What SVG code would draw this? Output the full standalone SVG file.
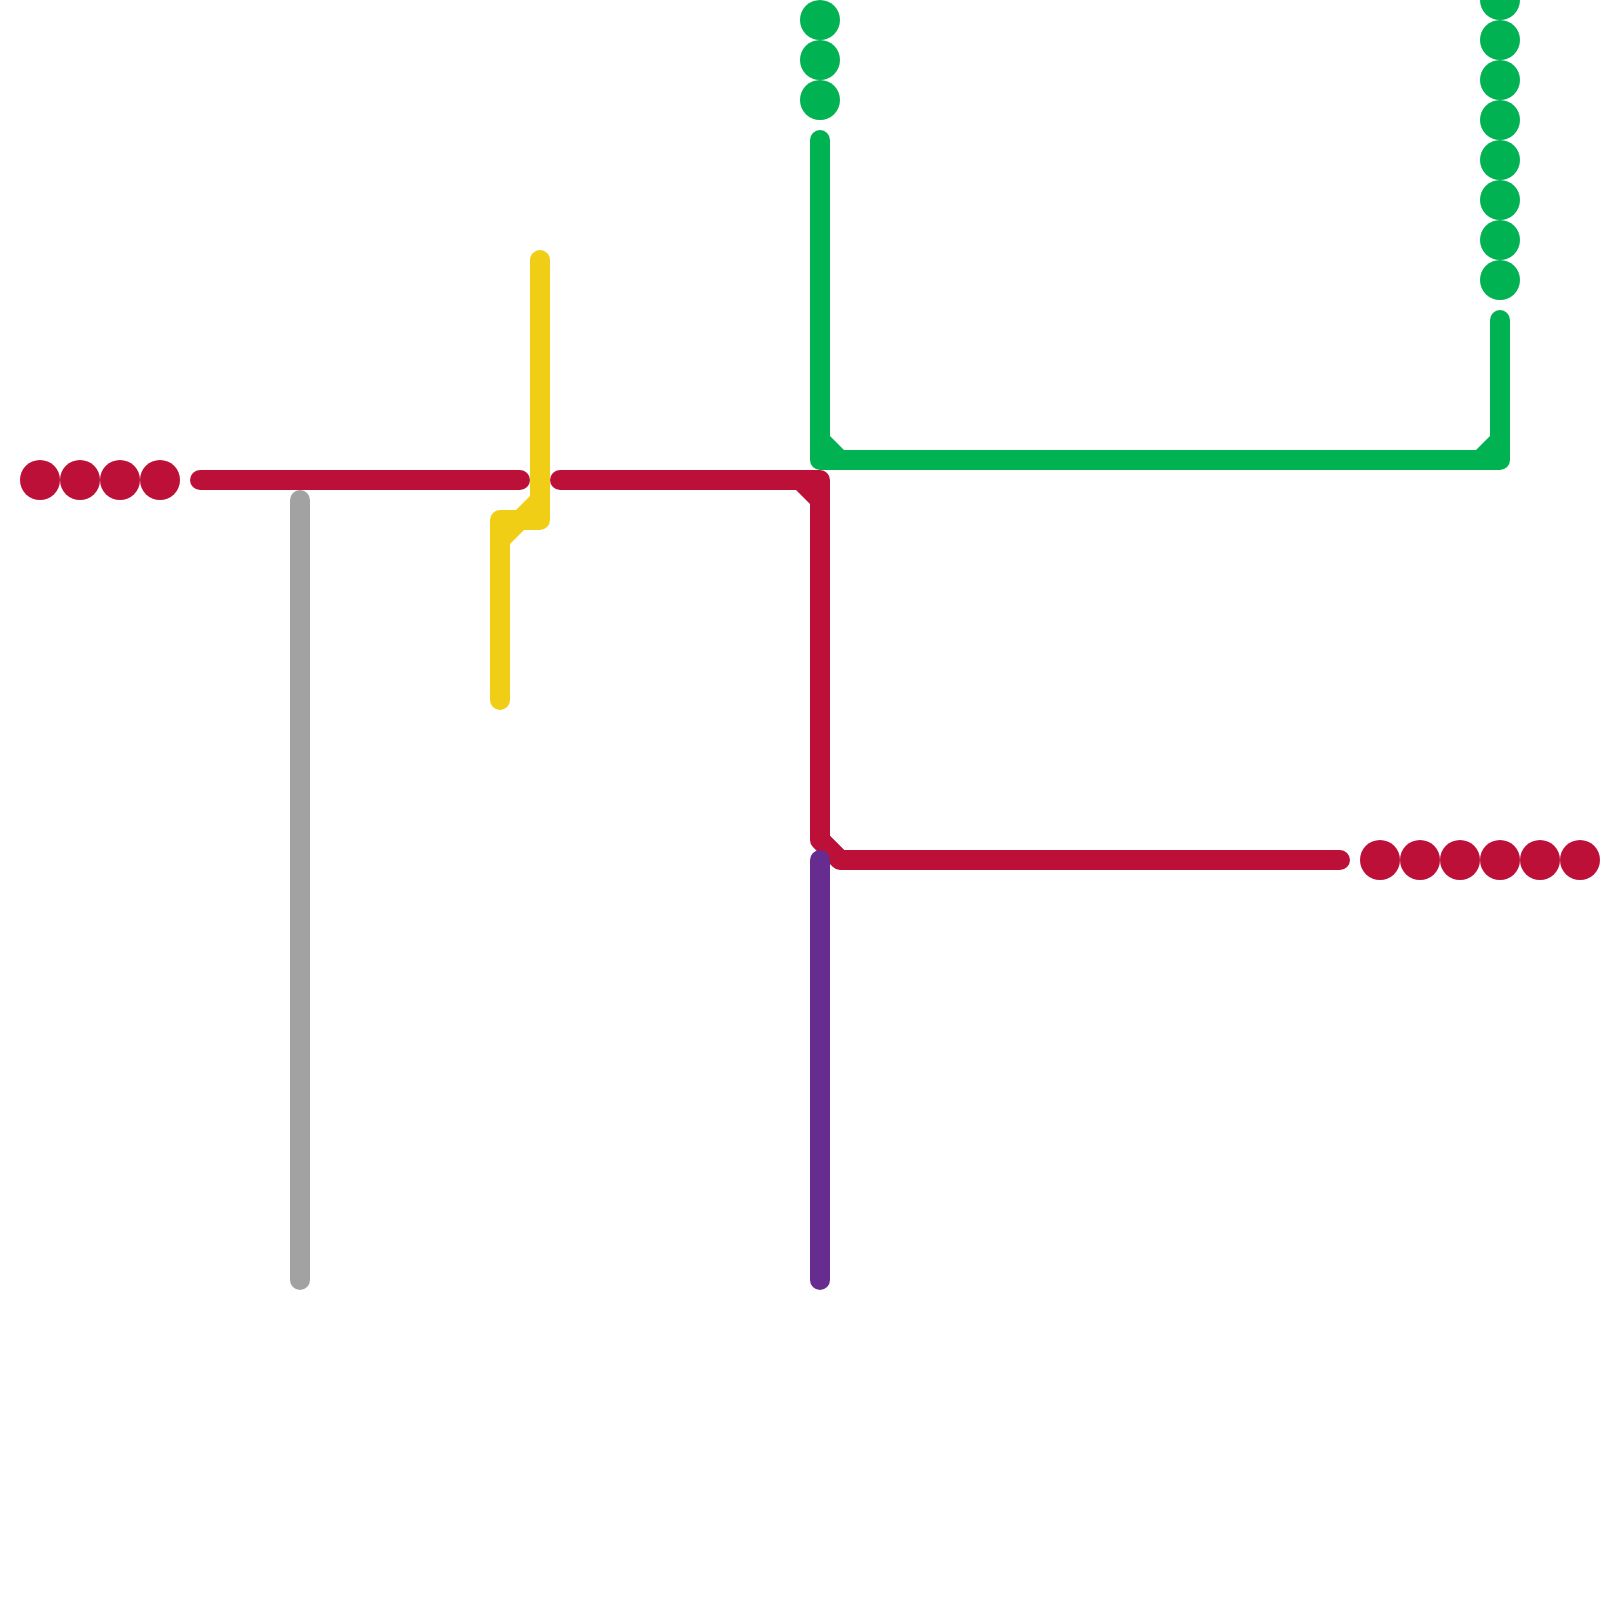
<svg xmlns="http://www.w3.org/2000/svg" width="1600" height="1600" viewBox="0 0 1600 1600">
<style>
.l{fill:none;stroke-width:20;stroke-linecap:round;stroke-linejoin:round}
.red{stroke:#BD1038}.green{stroke:#00B251}.yellow{stroke:#F0CE15}.purple{stroke:#662C90}.gray{stroke:#A2A2A2}
.fr{fill:#BD1038}.fg{fill:#00B251}.fy{fill:#F0CE15}
</style>
<rect width="1600" height="1600" fill="#ffffff"/>
<g id="connectors">
<path id="line-gray" class="l gray" d="M300 500V1280"/>
<path id="line-red-a" class="l red" d="M200 480H520"/>
<path id="line-red-b" class="l red" d="M560 480H820V840L840 860H1340"/>
<polygon class="fr" points="796,490 810,504 810,490"/>
<polygon class="fr" points="830,836 844,850 830,850"/>
<path id="line-yellow" class="l yellow" d="M540 260V520H500V700"/>
<polygon class="fy" points="530,496 516,510 530,510"/>
<polygon class="fy" points="510,544 524,530 510,530"/>
<path id="line-green" class="l green" d="M820 140V460H1500V320"/>
<polygon class="fg" points="830,436 844,450 830,450"/>
<polygon class="fg" points="1476,450 1490,436 1490,450"/>
<path id="line-purple" class="l purple" d="M820 860V1280"/>
</g>
<g id="nodes-red-left" class="fr">
<circle id="r1" cx="40" cy="480" r="20"/><circle id="r2" cx="80" cy="480" r="20"/><circle id="r3" cx="120" cy="480" r="20"/><circle id="r4" cx="160" cy="480" r="20"/>
</g>
<g id="nodes-red-right" class="fr">
<circle id="r5" cx="1380" cy="860" r="20"/><circle id="r6" cx="1420" cy="860" r="20"/><circle id="r7" cx="1460" cy="860" r="20"/><circle id="r8" cx="1500" cy="860" r="20"/><circle id="r9" cx="1540" cy="860" r="20"/><circle id="r10" cx="1580" cy="860" r="20"/>
</g>
<g id="nodes-green-mid" class="fg">
<circle id="g1" cx="820" cy="20" r="20"/><circle id="g2" cx="820" cy="60" r="20"/><circle id="g3" cx="820" cy="100" r="20"/>
</g>
<g id="nodes-green-right" class="fg">
<circle id="g4" cx="1500" cy="0" r="20"/><circle id="g5" cx="1500" cy="40" r="20"/><circle id="g6" cx="1500" cy="80" r="20"/><circle id="g7" cx="1500" cy="120" r="20"/><circle id="g8" cx="1500" cy="160" r="20"/><circle id="g9" cx="1500" cy="200" r="20"/><circle id="g10" cx="1500" cy="240" r="20"/><circle id="g11" cx="1500" cy="280" r="20"/>
</g>
</svg>
